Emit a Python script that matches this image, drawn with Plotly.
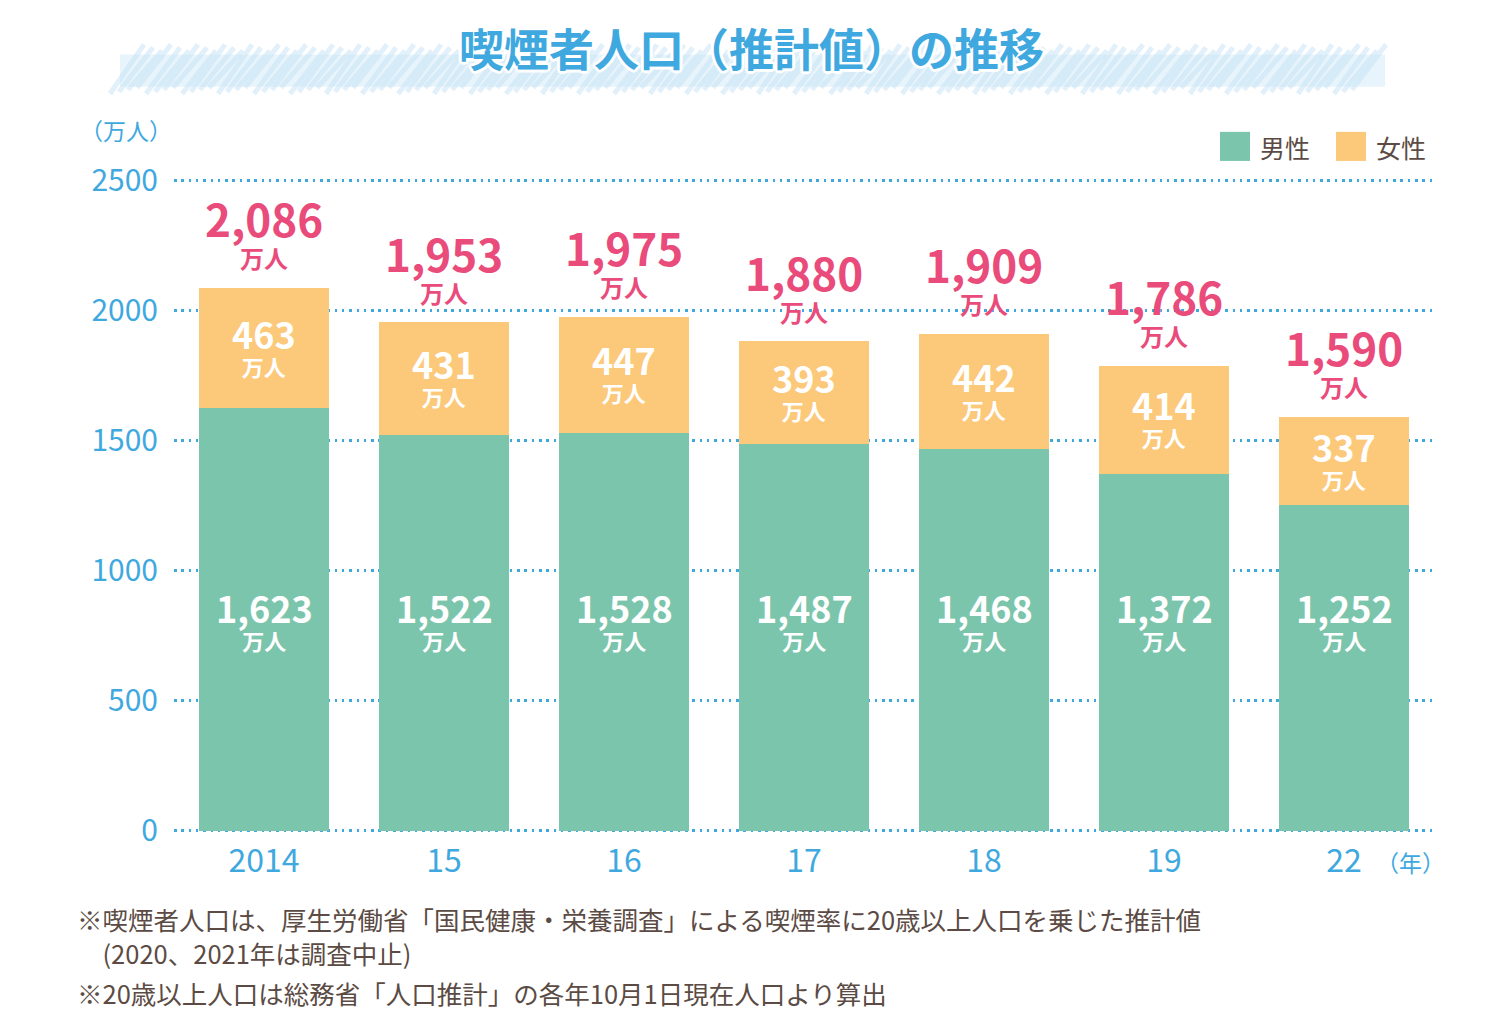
import plotly.graph_objects as go

years = ["2014", "15", "16", "17", "18", "19", "22"]
male = [1623, 1522, 1528, 1487, 1468, 1372, 1252]
female = [463, 431, 447, 393, 442, 414, 337]
totals = [2086, 1953, 1975, 1880, 1909, 1786, 1590]
series_names = ["男性", "女性"]
y_ticks = [0, 500, 1000, 1500, 2000, 2500]
title_text = "喫煙者人口（推計値）の推移"
unit_y = "（万人）"
unit_x = "（年）"
unit_label = "万人"
notes = [
    "※喫煙者人口は、厚生労働省「国民健康・栄養調査」による喫煙率に20歳以上人口を乗じた推計値",
    "　(2020、2021年は調査中止)",
    "※20歳以上人口は総務省「人口推計」の各年10月1日現在人口より算出",
]

GREEN = "#7cc5ad"
ORANGE = "#fcc87a"
PINK = "#e94b7b"
BLUE = "#3fa9df"
BROWN = "#5b4b44"
FONT = "Noto Sans CJK JP"

OFF = 8  # page body margin
W, H = 1500, 1010
# target screen coordinates of the plot area
L, R, T, B = 174, 1434, 180, 831
Lf, Rf, Tf, Bf = L - OFF, R - OFF, T - OFF, B - OFF
PAD = 4  # small data padding so the 0 and 2500 grid lines are drawn


def px(x):
    return (x - OFF - Lf) / (Rf - Lf)


def py(y):
    return (Bf - (y - OFF)) / (Bf - Tf)


def two_line(num, big, small):
    return (f"<span style='font-size:{big}px'><b>{num:,}</b></span><br>"
            f"<span style='font-size:{small}px'><b>{unit_label}</b></span>")


fig = go.Figure()
fig.add_trace(go.Bar(x=years, y=male, name=series_names[0], marker=dict(color=GREEN, line=dict(width=0))))
fig.add_trace(go.Bar(x=years, y=female, name=series_names[1], marker=dict(color=ORANGE, line=dict(width=0))))

ann = []
for i, yr in enumerate(years):
    # totals
    ann.append(dict(x=i, y=totals[i], xref="x", yref="y", text=two_line(totals[i], 44, 24), showarrow=False,
                    yshift=57, yanchor="middle", font=dict(family=FONT, size=24, color=PINK)))
    # female
    mid = male[i] + female[i] / 2
    ann.append(dict(x=i, y=mid, xref="x", yref="y", text=two_line(female[i], 36, 22), showarrow=False,
                    yshift=4, yanchor="middle", font=dict(family=FONT, size=21, color="white")))
    # male
    ann.append(dict(x=i, y=850, xref="x", yref="y", text=two_line(male[i], 36, 22), showarrow=False,
                    yshift=-9, yanchor="middle", font=dict(family=FONT, size=21, color="white")))

shadow = ", ".join(f"{dx}px {dy}px 0 white" for dx, dy in
                   [(2, 0), (-2, 0), (0, 2), (0, -2), (2, 2), (-2, -2), (2, -2), (-2, 2), (3, 0), (-3, 0), (0, 3), (0, -3)])
ann.append(dict(x=px(751), y=py(49), xref="paper", yref="paper", text=f"<b>{title_text}</b>", showarrow=False,
                xanchor="center", yanchor="middle",
                font=dict(family=FONT, size=45, color=BLUE, shadow=shadow)))
ann.append(dict(x=px(174), y=py(131), xref="paper", yref="paper", text=unit_y, showarrow=False,
                xanchor="right", yanchor="middle", font=dict(family=FONT, size=23, color=BLUE)))
ann.append(dict(x=px(1447), y=py(861), xref="paper", yref="paper", text=unit_x, showarrow=False,
                xanchor="right", yanchor="middle", font=dict(family=FONT, size=23, color=BLUE)))

# legend (manual)
shapes = []
leg = [(1220, GREEN, series_names[0]), (1336, ORANGE, series_names[1])]
for x0, col, name in leg:
    shapes.append(dict(type="rect", xref="paper", yref="paper", x0=px(x0), x1=px(x0 + 30), y0=py(162), y1=py(133),
                       fillcolor=col, line=dict(width=0)))
    ann.append(dict(x=px(x0 + 38), y=py(148), xref="paper", yref="paper", text=name, showarrow=False,
                    xanchor="left", yanchor="middle", font=dict(family=FONT, size=25, color=BROWN)))

note_y = [917, 951, 991]
for t, yy in zip(notes, note_y):
    ann.append(dict(x=px(75), y=py(yy), xref="paper", yref="paper", text=t, showarrow=False,
                    xanchor="left", yanchor="middle", font=dict(family=FONT, size=25.5, color=BROWN)))

# title brush background (decorative scribble)
segs = []
x = 110
k = 0
while x < 1360:
    top = 46 + (k % 3) * 3
    bot = 95 - (k % 4) * 2
    segs.append(f"M{px(x)},{py(bot)} L{px(x + 34)},{py(top)}")
    x += 9
    k += 1
shapes.insert(0, dict(type="rect", xref="paper", yref="paper", x0=px(120), x1=px(1385), y0=py(88), y1=py(56),
                      fillcolor="rgba(205,231,246,0.45)", line=dict(width=0), layer="below"))
shapes.insert(1, dict(type="path", xref="paper", yref="paper", path=" ".join(segs),
                      line=dict(color="rgba(195,226,245,0.5)", width=5), layer="below"))

fig.update_layout(
    width=W, height=H,
    barmode="stack", bargap=0.28,
    showlegend=False,
    plot_bgcolor="white", paper_bgcolor="white",
    margin=dict(l=Lf, r=W - Rf, t=Tf - 1, b=H - Bf - 1, pad=0),
    annotations=ann, shapes=shapes,
    font=dict(family=FONT),
    xaxis=dict(type="category", range=[-0.5, 6.5], autorange=False, showgrid=False, zeroline=False,
               showline=False, ticks="",
               tickfont=dict(family=FONT, size=32, color=BLUE), ticklabelstandoff=7),
    yaxis=dict(range=[-PAD, 2500 + PAD], autorange=False, tickvals=y_ticks, showgrid=True, gridcolor=BLUE,
               gridwidth=2.5, griddash="2.5px,4.8px", zeroline=False, showline=False, ticks="",
               tickfont=dict(family=FONT, size=30, color=BLUE), ticklabelstandoff=15),
)

fig.write_html("out.html")
